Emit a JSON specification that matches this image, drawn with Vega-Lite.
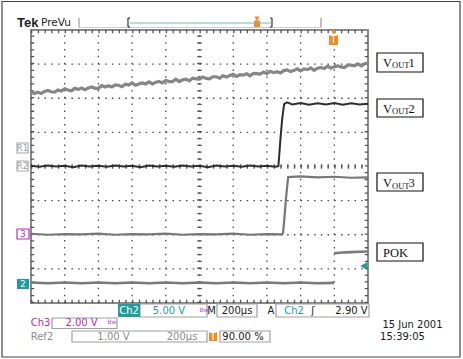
{
  "$schema": "https://vega.github.io/schema/vega-lite/v6.json",
  "width": 337,
  "height": 273,
  "autosize": {"type": "none"},
  "padding": {"left": 31, "top": 30, "right": 95, "bottom": 56},
  "background": "white",
  "config": {
    "view": {"stroke": "#8a8a8a", "strokeWidth": 2}
  },
  "resolve": {"scale": {"color": "independent", "stroke": "independent", "fill": "independent"}},
  "datasets": {
    "gridV": [
      {"x":1,"y":0,"y2":8},{"x":2,"y":0,"y2":8},{"x":3,"y":0,"y2":8},{"x":4,"y":0,"y2":8},{"x":5,"y":0,"y2":8},
      {"x":6,"y":0,"y2":8},{"x":7,"y":0,"y2":8},{"x":8,"y":0,"y2":8},{"x":9,"y":0,"y2":8}
    ],
    "gridH": [
      {"y":1,"x":0,"x2":10},{"y":2,"x":0,"x2":10},{"y":3,"x":0,"x2":10},{"y":4,"x":0,"x2":10},
      {"y":5,"x":0,"x2":10},{"y":6,"x":0,"x2":10},{"y":7,"x":0,"x2":10}
    ],
    "edgeTicksH": [
      {"y":0.044,"x":0,"x2":10},
      {"y":7.956,"x":0,"x2":10}
    ],
    "edgeTicksV": [
      {"x":0.0445,"y":0,"y2":8},
      {"x":9.9555,"y":0,"y2":8}
    ],
    "centerTickH": [
      {"y":4,"x":0,"x2":10}
    ],
    "centerTickV": [
      {"x":5,"y":0,"y2":8}
    ],
    "vout1": [
      {"t":0,"v":6.18},{"t":0.1,"v":6.14},{"t":0.2,"v":6.18},{"t":0.3,"v":6.14},{"t":0.4,"v":6.20},{"t":0.5,"v":6.23},{"t":0.6,"v":6.19},{"t":0.7,"v":6.18},{"t":0.8,"v":6.24},{"t":0.9,"v":6.21},
      {"t":1.0,"v":6.28},{"t":1.1,"v":6.24},{"t":1.2,"v":6.22},{"t":1.3,"v":6.29},{"t":1.4,"v":6.26},{"t":1.5,"v":6.30},{"t":1.6,"v":6.25},{"t":1.7,"v":6.30},{"t":1.8,"v":6.33},{"t":1.9,"v":6.29},
      {"t":2.0,"v":6.29},{"t":2.1,"v":6.37},{"t":2.2,"v":6.33},{"t":2.3,"v":6.37},{"t":2.4,"v":6.33},{"t":2.5,"v":6.39},{"t":2.6,"v":6.38},{"t":2.7,"v":6.34},{"t":2.8,"v":6.41},{"t":2.9,"v":6.39},
      {"t":3.0,"v":6.45},{"t":3.1,"v":6.38},{"t":3.2,"v":6.42},{"t":3.3,"v":6.45},{"t":3.4,"v":6.42},{"t":3.5,"v":6.48},{"t":3.6,"v":6.42},{"t":3.7,"v":6.47},{"t":3.8,"v":6.49},{"t":3.9,"v":6.45},
      {"t":4.0,"v":6.52},{"t":4.1,"v":6.49},{"t":4.2,"v":6.49},{"t":4.3,"v":6.56},{"t":4.4,"v":6.49},{"t":4.5,"v":6.54},{"t":4.6,"v":6.56},{"t":4.7,"v":6.51},{"t":4.8,"v":6.59},{"t":4.9,"v":6.57},
      {"t":5.0,"v":6.56},{"t":5.1,"v":6.62},{"t":5.2,"v":6.58},{"t":5.3,"v":6.57},{"t":5.4,"v":6.63},{"t":5.5,"v":6.63},{"t":5.6,"v":6.59},{"t":5.7,"v":6.66},{"t":5.8,"v":6.62},{"t":5.9,"v":6.67},
      {"t":6.0,"v":6.70},{"t":6.1,"v":6.64},{"t":6.2,"v":6.69},{"t":6.3,"v":6.68},{"t":6.4,"v":6.72},{"t":6.5,"v":6.66},{"t":6.6,"v":6.73},{"t":6.7,"v":6.72},{"t":6.8,"v":6.71},{"t":6.9,"v":6.77},
      {"t":7.0,"v":6.72},{"t":7.1,"v":6.79},{"t":7.2,"v":6.75},{"t":7.3,"v":6.78},{"t":7.4,"v":6.74},{"t":7.5,"v":6.81},{"t":7.6,"v":6.83},{"t":7.7,"v":6.78},{"t":7.8,"v":6.81},{"t":7.9,"v":6.86},
      {"t":8.0,"v":6.80},{"t":8.1,"v":6.86},{"t":8.2,"v":6.84},{"t":8.3,"v":6.89},{"t":8.4,"v":6.82},{"t":8.5,"v":6.88},{"t":8.6,"v":6.90},{"t":8.7,"v":6.87},{"t":8.8,"v":6.94},{"t":8.9,"v":6.88},
      {"t":9.0,"v":6.92},{"t":9.1,"v":6.95},{"t":9.2,"v":6.92},{"t":9.3,"v":6.90},{"t":9.4,"v":6.97},{"t":9.5,"v":6.97},{"t":9.6,"v":6.95},{"t":9.7,"v":7.01},{"t":9.8,"v":6.95},{"t":9.9,"v":7.01},
      {"t":10.0,"v":7.03}
    ],
    "vout2": [
      {"t":0,"v":4.02},{"t":0.25,"v":3.99},{"t":0.5,"v":4.03},{"t":0.75,"v":4.00},{"t":1,"v":4.02},{"t":1.25,"v":3.98},{"t":1.5,"v":4.03},{"t":1.75,"v":4.00},
      {"t":2,"v":4.02},{"t":2.25,"v":3.99},{"t":2.5,"v":4.03},{"t":2.75,"v":4.00},{"t":3,"v":4.02},{"t":3.25,"v":3.98},{"t":3.5,"v":4.03},{"t":3.75,"v":4.00},
      {"t":4,"v":4.02},{"t":4.25,"v":3.99},{"t":4.5,"v":4.03},{"t":4.75,"v":4.00},{"t":5,"v":4.02},{"t":5.25,"v":3.98},{"t":5.5,"v":4.03},{"t":5.75,"v":4.00},
      {"t":6,"v":4.02},{"t":6.25,"v":3.99},{"t":6.5,"v":4.03},{"t":6.75,"v":4.00},{"t":7,"v":4.02},{"t":7.25,"v":3.99},{"t":7.34,"v":4.01},
      {"t":7.36,"v":4.25},{"t":7.40,"v":4.78},{"t":7.45,"v":5.36},{"t":7.51,"v":5.83},
      {"t":7.6,"v":5.88},{"t":7.75,"v":5.82},{"t":8,"v":5.86},{"t":8.25,"v":5.81},{"t":8.5,"v":5.85},{"t":8.75,"v":5.82},{"t":9,"v":5.86},{"t":9.25,"v":5.81},{"t":9.5,"v":5.85},{"t":9.75,"v":5.82},{"t":10,"v":5.84}
    ],
    "vout3": [
      {"t":0,"v":2.03},{"t":0.5,"v":2.00},{"t":1,"v":2.02},{"t":1.5,"v":2.01},{"t":2,"v":2.03},{"t":2.5,"v":2.00},{"t":3,"v":2.02},{"t":3.5,"v":2.01},
      {"t":4,"v":2.03},{"t":4.5,"v":2.00},{"t":5,"v":2.02},{"t":5.5,"v":2.01},{"t":6,"v":2.03},{"t":6.5,"v":2.00},{"t":7,"v":2.02},{"t":7.45,"v":2.01},
      {"t":7.48,"v":2.05},{"t":7.52,"v":2.5},{"t":7.57,"v":3.1},{"t":7.63,"v":3.69},
      {"t":8,"v":3.71},{"t":8.5,"v":3.68},{"t":9,"v":3.70},{"t":9.5,"v":3.67},{"t":10,"v":3.68}
    ],
    "pok": [
      {"seg":"low","t":0,"v":0.60},{"seg":"low","t":0.5,"v":0.58},{"seg":"low","t":1,"v":0.60},{"seg":"low","t":1.5,"v":0.58},{"seg":"low","t":2,"v":0.60},
      {"seg":"low","t":2.5,"v":0.58},{"seg":"low","t":3,"v":0.60},{"seg":"low","t":3.5,"v":0.58},{"seg":"low","t":4,"v":0.60},{"seg":"low","t":4.5,"v":0.58},
      {"seg":"low","t":5,"v":0.60},{"seg":"low","t":5.5,"v":0.58},{"seg":"low","t":6,"v":0.60},{"seg":"low","t":6.5,"v":0.58},{"seg":"low","t":7,"v":0.60},
      {"seg":"low","t":7.5,"v":0.58},{"seg":"low","t":8,"v":0.60},{"seg":"low","t":8.5,"v":0.58},{"seg":"low","t":8.99,"v":0.59},
      {"seg":"high","t":8.99,"v":1.46},{"seg":"high","t":9.25,"v":1.48},{"seg":"high","t":9.5,"v":1.49},{"seg":"high","t":9.75,"v":1.50},{"seg":"high","t":10,"v":1.51}
    ],
    "outlines": [
      {"role":"frame","x":-0.861,"x2":12.73,"y":8.835,"y2":-1.583},
      {"role":"label","x":10.267,"x2":11.632,"y":7.326,"y2":6.769},
      {"role":"label","x":10.267,"x2":11.632,"y":5.978,"y2":5.451},
      {"role":"label","x":10.267,"x2":11.632,"y":3.810,"y2":3.282},
      {"role":"label","x":10.267,"x2":11.632,"y":1.758,"y2":1.231},
      {"role":"info","x":3.234,"x2":5.223,"y":-0.029,"y2":-0.410},
      {"role":"info","x":5.519,"x2":6.706,"y":-0.029,"y2":-0.410},
      {"role":"info","x":7.270,"x2":10.030,"y":-0.029,"y2":-0.410},
      {"role":"info","x":0.623,"x2":2.552,"y":-0.440,"y2":-0.747},
      {"role":"info","x":1.217,"x2":5.223,"y":-0.821,"y2":-1.143},
      {"role":"info","x":5.608,"x2":7.092,"y":-0.821,"y2":-1.143},
      {"role":"ref","x":-0.415,"x2":-0.089,"y":4.689,"y2":4.396},
      {"role":"ref","x":-0.415,"x2":-0.089,"y":4.161,"y2":3.868},
      {"role":"ch3","x":-0.415,"x2":-0.059,"y":2.168,"y2":1.875}
    ],
    "fills": [
      {"role":"ch2","x":2.582,"x2":3.234,"y":-0.029,"y2":-0.410},
      {"role":"ch2","x":-0.415,"x2":-0.059,"y":0.703,"y2":0.410},
      {"role":"trig","x":5.282,"x2":5.519,"y":-0.850,"y2":-1.114},
      {"role":"trig","x":8.843,"x2":9.110,"y":7.853,"y2":7.560},
      {"role":"trig","x":6.617,"x2":6.795,"y":8.278,"y2":8.088}
    ],
    "rules": [
      {"role":"track","x":1.424,"x2":8.605,"y":8.073,"y2":8.073},
      {"role":"tick","x":1.424,"x2":1.424,"y":8.352,"y2":8.073},
      {"role":"tick","x":8.605,"x2":8.605,"y":8.352,"y2":8.073},
      {"role":"window","x":2.938,"x2":7.122,"y":8.205,"y2":8.205},
      {"role":"bracket","x":2.878,"x2":2.878,"y":8.352,"y2":8.088},
      {"role":"bracket","x":2.878,"x2":2.938,"y":8.352,"y2":8.352},
      {"role":"bracket","x":2.878,"x2":2.938,"y":8.088,"y2":8.088},
      {"role":"bracket","x":7.151,"x2":7.151,"y":8.352,"y2":8.088},
      {"role":"bracket","x":7.092,"x2":7.151,"y":8.352,"y2":8.352},
      {"role":"bracket","x":7.092,"x2":7.151,"y":8.088,"y2":8.088}
    ],
    "trigPins": [
      {"x":8.976,"y":7.935},
      {"x":6.706,"y":8.33}
    ],
    "levelPin": [
      {"x":9.87,"y":1.084}
    ],
    "labels": [
      {"text":"Ch2","role":"onfill","x":2.908,"y":-0.220},
      {"text":"5.00 V","role":"ch2","x":4.095,"y":-0.220},
      {"text":"M","role":"main","x":5.356,"y":-0.220},
      {"text":"200µs","role":"main","x":6.113,"y":-0.220},
      {"text":"A","role":"main","x":7.122,"y":-0.220},
      {"text":"Ch2","role":"ch2","x":7.804,"y":-0.220},
      {"text":"ʃ","role":"main","x":8.368,"y":-0.220},
      {"text":"2.90 V","role":"main","x":9.510,"y":-0.220},
      {"text":"Ch3","role":"ch3","x":0.282,"y":-0.586},
      {"text":"2.00 V","role":"ch3","x":1.499,"y":-0.586},
      {"text":"Ref2","role":"ref","x":0.326,"y":-0.982},
      {"text":"1.00 V","role":"ref","x":2.448,"y":-0.982},
      {"text":"200µs","role":"ref","x":4.481,"y":-0.982},
      {"text":"T","role":"onfill","x":5.401,"y":-0.982},
      {"text":"90.00 %","role":"main","x":6.291,"y":-0.982},
      {"text":"15 Jun  2001","role":"main","x":11.320,"y":-0.645},
      {"text":"15:39:05","role":"main","x":11.024,"y":-0.982},
      {"text":"T","role":"onfill","x":8.976,"y":7.707}
    ],
    "markers": [
      {"text":"R1","role":"ref","x":-0.252,"y":4.542},
      {"text":"R2","role":"ref","x":-0.252,"y":4.015},
      {"text":"3","role":"ch3","x":-0.237,"y":2.022},
      {"text":"2","role":"onfill","x":-0.237,"y":0.557}
    ],
    "bw": [
      {"x":5.134,"y":-0.20},
      {"x":2.404,"y":-0.55}
    ],
    "header": [
      {"text":"Tek","x":-0.415,"y":8.088}
    ],
    "header2": [
      {"text":"PreVu","x":0.297,"y":8.117}
    ],
    "serifBig": [
      {"text":"V","x":10.445,"y":6.916},
      {"text":"1","x":11.202,"y":6.916},
      {"text":"V","x":10.445,"y":5.568},
      {"text":"2","x":11.202,"y":5.568},
      {"text":"V","x":10.445,"y":3.399},
      {"text":"3","x":11.202,"y":3.399},
      {"text":"POK","x":10.445,"y":1.348}
    ],
    "serifSmall": [
      {"text":"OUT","x":10.712,"y":6.872},
      {"text":"OUT","x":10.712,"y":5.524},
      {"text":"OUT","x":10.712,"y":3.355}
    ]
  },
  "layer": [
    {
      "data": {"name": "gridV"},
      "mark": {"type": "rule", "color": "#4a4a4a", "strokeWidth": 1.3, "strokeDash": [1.5, 5.325]},
      "encoding": {
        "x": {"field": "x", "type": "quantitative", "scale": {"domain": [0, 10], "nice": false, "zero": false}, "axis": null},
        "y": {"field": "y", "type": "quantitative", "scale": {"domain": [0, 8], "nice": false, "zero": false}, "axis": null},
        "y2": {"field": "y2"}
      }
    },
    {
      "data": {"name": "gridH"},
      "mark": {"type": "rule", "color": "#4a4a4a", "strokeWidth": 1.3, "strokeDash": [1.5, 5.24]},
      "encoding": {
        "x": {"field": "x", "type": "quantitative", "scale": {"domain": [0, 10], "nice": false, "zero": false}, "axis": null},
        "x2": {"field": "x2"},
        "y": {"field": "y", "type": "quantitative", "scale": {"domain": [0, 8], "nice": false, "zero": false}, "axis": null}
      }
    },
    {
      "data": {"name": "edgeTicksV"},
      "mark": {"type": "rule", "color": "#555555", "strokeWidth": 3.5, "strokeDash": [1.3, 5.525]},
      "encoding": {
        "x": {"field": "x", "type": "quantitative", "scale": {"domain": [0, 10], "nice": false, "zero": false}, "axis": null},
        "y": {"field": "y", "type": "quantitative", "scale": {"domain": [0, 8], "nice": false, "zero": false}, "axis": null},
        "y2": {"field": "y2"}
      }
    },
    {
      "data": {"name": "edgeTicksH"},
      "mark": {"type": "rule", "color": "#555555", "strokeWidth": 3.5, "strokeDash": [1.3, 5.44]},
      "encoding": {
        "x": {"field": "x", "type": "quantitative", "scale": {"domain": [0, 10], "nice": false, "zero": false}, "axis": null},
        "x2": {"field": "x2"},
        "y": {"field": "y", "type": "quantitative", "scale": {"domain": [0, 8], "nice": false, "zero": false}, "axis": null}
      }
    },
    {
      "data": {"name": "centerTickV"},
      "mark": {"type": "rule", "color": "#555555", "strokeWidth": 4.5, "strokeDash": [1.3, 5.525]},
      "encoding": {
        "x": {"field": "x", "type": "quantitative", "scale": {"domain": [0, 10], "nice": false, "zero": false}, "axis": null},
        "y": {"field": "y", "type": "quantitative", "scale": {"domain": [0, 8], "nice": false, "zero": false}, "axis": null},
        "y2": {"field": "y2"}
      }
    },
    {
      "data": {"name": "centerTickH"},
      "mark": {"type": "rule", "color": "#555555", "strokeWidth": 4.5, "strokeDash": [1.3, 5.44]},
      "encoding": {
        "x": {"field": "x", "type": "quantitative", "scale": {"domain": [0, 10], "nice": false, "zero": false}, "axis": null},
        "x2": {"field": "x2"},
        "y": {"field": "y", "type": "quantitative", "scale": {"domain": [0, 8], "nice": false, "zero": false}, "axis": null}
      }
    },
    {
      "data": {"name": "outlines"},
      "mark": {"type": "rect", "fill": "transparent", "strokeWidth": 1.2},
      "encoding": {
        "x": {"field": "x", "type": "quantitative", "scale": {"domain": [0, 10], "nice": false, "zero": false}, "axis": null},
        "x2": {"field": "x2"},
        "y": {"field": "y", "type": "quantitative", "scale": {"domain": [0, 8], "nice": false, "zero": false}, "axis": null},
        "y2": {"field": "y2"},
        "stroke": {"field": "role", "type": "nominal", "legend": null,
          "scale": {"domain": ["frame", "label", "info", "ref", "ch3"], "range": ["#444444", "#111111", "#a0a0a0", "#aaaaaa", "#b52bb5"]}}
      }
    },
    {
      "data": {"name": "vout1"},
      "mark": {"type": "line", "color": "#868686", "strokeWidth": 3.2},
      "encoding": {
        "x": {"field": "t", "type": "quantitative", "scale": {"domain": [0, 10], "nice": false, "zero": false}, "axis": null},
        "y": {"field": "v", "type": "quantitative", "scale": {"domain": [0, 8], "nice": false, "zero": false}, "axis": null}
      }
    },
    {
      "data": {"name": "vout2"},
      "mark": {"type": "line", "color": "#2e2e2e", "strokeWidth": 2},
      "encoding": {
        "x": {"field": "t", "type": "quantitative", "scale": {"domain": [0, 10], "nice": false, "zero": false}, "axis": null},
        "y": {"field": "v", "type": "quantitative", "scale": {"domain": [0, 8], "nice": false, "zero": false}, "axis": null}
      }
    },
    {
      "data": {"name": "vout3"},
      "mark": {"type": "line", "color": "#777777", "strokeWidth": 2.2},
      "encoding": {
        "x": {"field": "t", "type": "quantitative", "scale": {"domain": [0, 10], "nice": false, "zero": false}, "axis": null},
        "y": {"field": "v", "type": "quantitative", "scale": {"domain": [0, 8], "nice": false, "zero": false}, "axis": null}
      }
    },
    {
      "data": {"name": "pok"},
      "mark": {"type": "line", "color": "#7a7a7a", "strokeWidth": 2.6},
      "encoding": {
        "x": {"field": "t", "type": "quantitative", "scale": {"domain": [0, 10], "nice": false, "zero": false}, "axis": null},
        "y": {"field": "v", "type": "quantitative", "scale": {"domain": [0, 8], "nice": false, "zero": false}, "axis": null},
        "detail": {"field": "seg", "type": "nominal"}
      }
    },
    {
      "data": {"name": "fills"},
      "mark": {"type": "rect"},
      "encoding": {
        "x": {"field": "x", "type": "quantitative", "scale": {"domain": [0, 10], "nice": false, "zero": false}, "axis": null},
        "x2": {"field": "x2"},
        "y": {"field": "y", "type": "quantitative", "scale": {"domain": [0, 8], "nice": false, "zero": false}, "axis": null},
        "y2": {"field": "y2"},
        "fill": {"field": "role", "type": "nominal", "legend": null,
          "scale": {"domain": ["ch2", "trig"], "range": ["#1f9c9c", "#f28a1e"]}}
      }
    },
    {
      "data": {"name": "rules"},
      "mark": {"type": "rule", "strokeWidth": 1.2},
      "encoding": {
        "x": {"field": "x", "type": "quantitative", "scale": {"domain": [0, 10], "nice": false, "zero": false}, "axis": null},
        "x2": {"field": "x2"},
        "y": {"field": "y", "type": "quantitative", "scale": {"domain": [0, 8], "nice": false, "zero": false}, "axis": null},
        "y2": {"field": "y2"},
        "color": {"field": "role", "type": "nominal", "legend": null,
          "scale": {"domain": ["track", "tick", "window", "bracket"], "range": ["#cfcfcf", "#999999", "#74b9ad", "#333333"]}}
      }
    },
    {
      "data": {"name": "trigPins"},
      "mark": {"type": "point", "shape": "triangle-down", "filled": true, "opacity": 1, "color": "#f28a1e", "size": 28},
      "encoding": {
        "x": {"field": "x", "type": "quantitative", "scale": {"domain": [0, 10], "nice": false, "zero": false}, "axis": null},
        "y": {"field": "y", "type": "quantitative", "scale": {"domain": [0, 8], "nice": false, "zero": false}, "axis": null}
      }
    },
    {
      "data": {"name": "levelPin"},
      "mark": {"type": "point", "shape": "triangle-left", "filled": true, "opacity": 1, "color": "#1f9c9c", "size": 60},
      "encoding": {
        "x": {"field": "x", "type": "quantitative", "scale": {"domain": [0, 10], "nice": false, "zero": false}, "axis": null},
        "y": {"field": "y", "type": "quantitative", "scale": {"domain": [0, 8], "nice": false, "zero": false}, "axis": null}
      }
    },
    {
      "data": {"name": "labels"},
      "mark": {"type": "text", "font": "DejaVu Sans", "fontSize": 10, "align": "center", "baseline": "middle"},
      "encoding": {
        "x": {"field": "x", "type": "quantitative", "scale": {"domain": [0, 10], "nice": false, "zero": false}, "axis": null},
        "y": {"field": "y", "type": "quantitative", "scale": {"domain": [0, 8], "nice": false, "zero": false}, "axis": null},
        "text": {"field": "text"},
        "color": {"field": "role", "type": "nominal", "legend": null,
          "scale": {"domain": ["ch2", "ch3", "ref", "main", "onfill"], "range": ["#1f9c9c", "#b52bb5", "#8c8c8c", "#1a1a1a", "#ffffff"]}}
      }
    },
    {
      "data": {"name": "markers"},
      "mark": {"type": "text", "font": "DejaVu Sans", "fontSize": 8.5, "align": "center", "baseline": "middle"},
      "encoding": {
        "x": {"field": "x", "type": "quantitative", "scale": {"domain": [0, 10], "nice": false, "zero": false}, "axis": null},
        "y": {"field": "y", "type": "quantitative", "scale": {"domain": [0, 8], "nice": false, "zero": false}, "axis": null},
        "text": {"field": "text"},
        "color": {"field": "role", "type": "nominal", "legend": null,
          "scale": {"domain": ["ch3", "ref", "onfill"], "range": ["#b52bb5", "#9a9a9a", "#ffffff"]}}
      }
    },
    {
      "data": {"name": "bw"},
      "mark": {"type": "text", "font": "DejaVu Sans", "fontSize": 6, "align": "center", "baseline": "middle", "color": "#b04cc0"},
      "encoding": {
        "x": {"field": "x", "type": "quantitative", "scale": {"domain": [0, 10], "nice": false, "zero": false}, "axis": null},
        "y": {"field": "y", "type": "quantitative", "scale": {"domain": [0, 8], "nice": false, "zero": false}, "axis": null},
        "text": {"value": "Bw"}
      }
    },
    {
      "data": {"name": "header"},
      "mark": {"type": "text", "font": "Liberation Sans", "fontSize": 13, "fontWeight": "bold", "align": "left", "baseline": "alphabetic", "color": "#222222"},
      "encoding": {
        "x": {"field": "x", "type": "quantitative", "scale": {"domain": [0, 10], "nice": false, "zero": false}, "axis": null},
        "y": {"field": "y", "type": "quantitative", "scale": {"domain": [0, 8], "nice": false, "zero": false}, "axis": null},
        "text": {"field": "text"}
      }
    },
    {
      "data": {"name": "header2"},
      "mark": {"type": "text", "font": "DejaVu Sans", "fontSize": 10.5, "align": "left", "baseline": "alphabetic", "color": "#222222"},
      "encoding": {
        "x": {"field": "x", "type": "quantitative", "scale": {"domain": [0, 10], "nice": false, "zero": false}, "axis": null},
        "y": {"field": "y", "type": "quantitative", "scale": {"domain": [0, 8], "nice": false, "zero": false}, "axis": null},
        "text": {"field": "text"}
      }
    },
    {
      "data": {"name": "serifBig"},
      "mark": {"type": "text", "font": "Liberation Serif", "fontSize": 12.5, "align": "left", "baseline": "alphabetic", "color": "#111111"},
      "encoding": {
        "x": {"field": "x", "type": "quantitative", "scale": {"domain": [0, 10], "nice": false, "zero": false}, "axis": null},
        "y": {"field": "y", "type": "quantitative", "scale": {"domain": [0, 8], "nice": false, "zero": false}, "axis": null},
        "text": {"field": "text"}
      }
    },
    {
      "data": {"name": "serifSmall"},
      "mark": {"type": "text", "font": "Liberation Serif", "fontSize": 8.5, "align": "left", "baseline": "alphabetic", "color": "#111111"},
      "encoding": {
        "x": {"field": "x", "type": "quantitative", "scale": {"domain": [0, 10], "nice": false, "zero": false}, "axis": null},
        "y": {"field": "y", "type": "quantitative", "scale": {"domain": [0, 8], "nice": false, "zero": false}, "axis": null},
        "text": {"field": "text"}
      }
    }
  ]
}
